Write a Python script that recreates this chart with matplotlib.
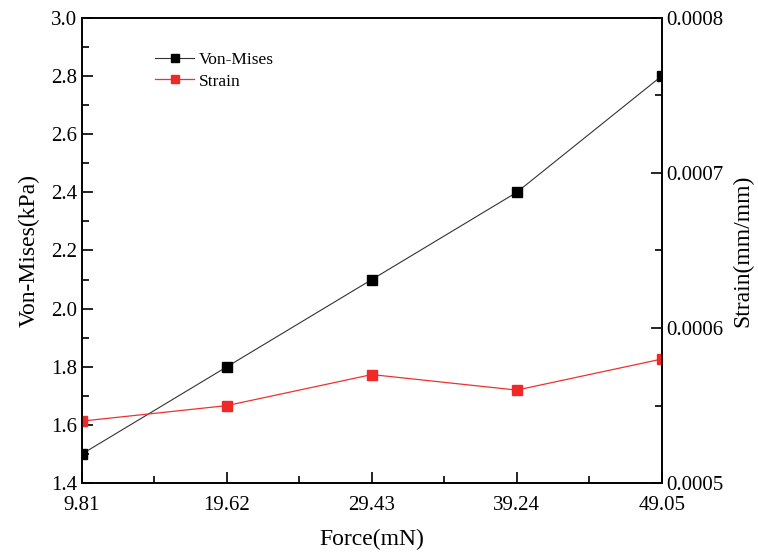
import matplotlib.pyplot as plt
from matplotlib.ticker import MultipleLocator, FixedLocator

plt.rcParams['font.family'] = ['Liberation Serif', 'DejaVu Serif']

force = [9.81, 19.62, 29.43, 39.24, 49.05]
von_mises = [1.5, 1.8, 2.1, 2.4, 2.8]
strain = [0.00054, 0.00055, 0.00057, 0.00056, 0.00058]

fig = plt.figure(figsize=(7.58, 5.56), dpi=100)
ax = fig.add_axes([0.108, 0.131, 0.765, 0.837])
ax2 = ax.twinx()

l1, = ax.plot(force, von_mises, color='#333333', lw=0.8, marker='s', ms=7,
              mfc='black', mec='black', label='Von-Mises')
l2, = ax2.plot(force, strain, color='#f03030', lw=0.9, marker='s', ms=7,
               mfc='#f02828', mec='#f02828', label='Strain')

ax.set_xlim(9.81, 49.05)
ax.set_ylim(1.4, 3.0)

ax.xaxis.set_major_locator(FixedLocator(force))
ax.xaxis.set_minor_locator(FixedLocator([14.715, 24.525, 34.335, 44.145]))
ax.set_xticklabels(['9.81', '19.62', '29.43', '39.24', '49.05'])
ax.yaxis.set_major_locator(MultipleLocator(0.2))
ax.yaxis.set_minor_locator(MultipleLocator(0.1))
ax2.yaxis.set_major_locator(FixedLocator([0.0005, 0.0006, 0.0007, 0.0008]))
ax2.yaxis.set_minor_locator(MultipleLocator(0.00005))
ax2.set_yticklabels(['0.0005', '0.0006', '0.0007', '0.0008'])
ax2.set_ylim(0.0005, 0.0008)

for a in (ax, ax2):
    a.tick_params(which='major', direction='in', length=8, width=1.2, labelsize=15)
    a.tick_params(which='minor', direction='in', length=5, width=1.2)
    for s in a.spines.values():
        s.set_linewidth(1.2)
ax.tick_params(axis='x', pad=9)

ax.set_xlabel('Force(mN)', fontsize=17, labelpad=10)
ax.set_ylabel('Von-Mises(kPa)', fontsize=17, labelpad=8)
ax2.set_ylabel('Strain(mm/mm)', fontsize=17, labelpad=6)

ax.legend(handles=[l1, l2], loc='upper left', bbox_to_anchor=(0.1, 0.96),
          frameon=False, fontsize=12.5, handlelength=2.2, handletextpad=0.3,
          labelspacing=0.3, markerscale=0.9)

fig.savefig('out.png', dpi=100)
